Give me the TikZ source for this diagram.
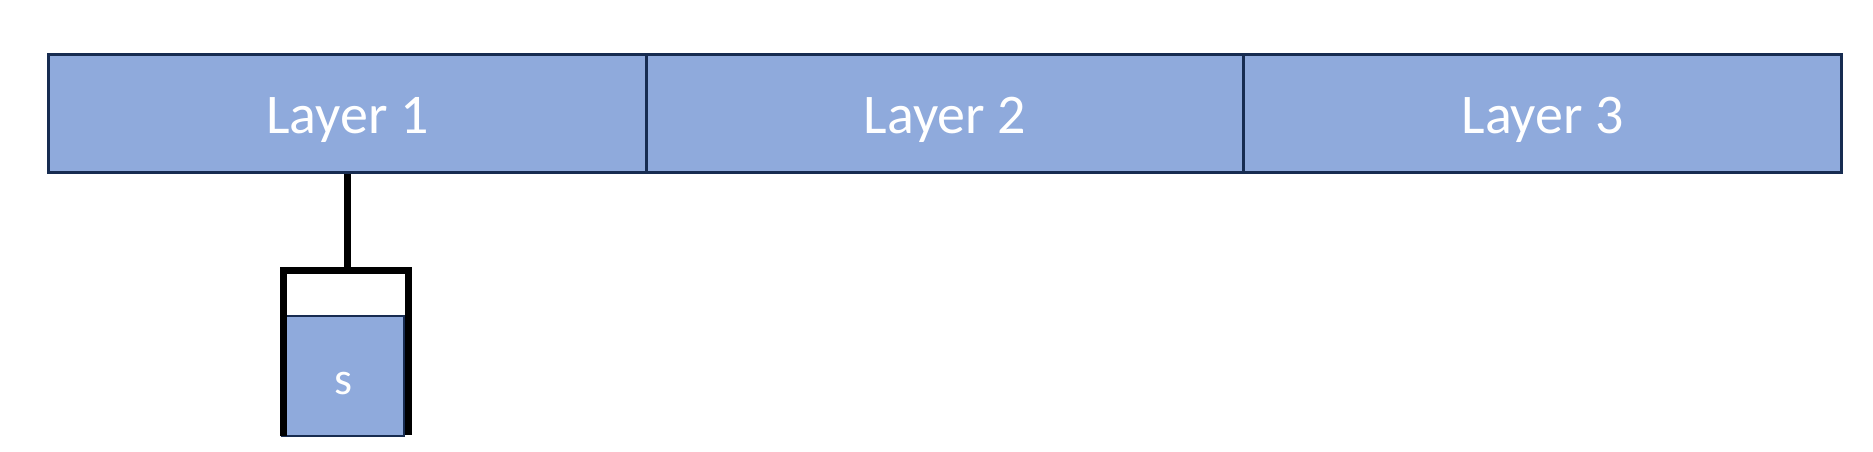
\documentclass[tikz,border=0pt]{standalone}
\usepackage{fontspec}
\setmainfont{Carlito}
\definecolor{layerfill}{HTML}{8FAADC}
\definecolor{layerdraw}{HTML}{172C51}
\begin{document}
\begin{tikzpicture}[x=1pt,y=-1pt,
  layerbox/.style={draw=layerdraw, fill=layerfill, line width=3pt,
    minimum width=597.7pt, minimum height=118pt, inner sep=0pt,
    text height=39.5pt, text depth=0pt,
    text=white, font=\fontsize{56}{60}\selectfont},
  sbox/.style={draw=layerdraw, fill=layerfill, line width=2pt,
    minimum width=122.6pt, minimum height=119.7pt, inner sep=0pt,
    text height=38pt, text depth=0pt,
    text=white, font=\fontsize{46}{50}\selectfont},
  bucket/.style={draw=black, line width=6.6pt, line join=miter}]
\useasboundingbox (0,0) rectangle (1873,451);
\node[layerbox] (l1) at (347.35,113.5) {Layer 1};
\node[layerbox] (l2) at (945.05,113.5) {Layer 2};
\node[layerbox] (l3) at (1542.75,113.5) {Layer 3};
\node[sbox] (s) at (343,375.8) {s};
\coordinate (bl) at (283.3,436);
\coordinate (tl) at (283.3,270.3);
\coordinate (tr) at (408.7,270.3);
\coordinate (br) at (408.7,435);
\coordinate (stemend) at (347.35,270.3);
\draw[bucket] (bl) -- (tl) -- (tr) -- (br);
\draw[bucket] (l1.south) -- (stemend);
\end{tikzpicture}
\end{document}
